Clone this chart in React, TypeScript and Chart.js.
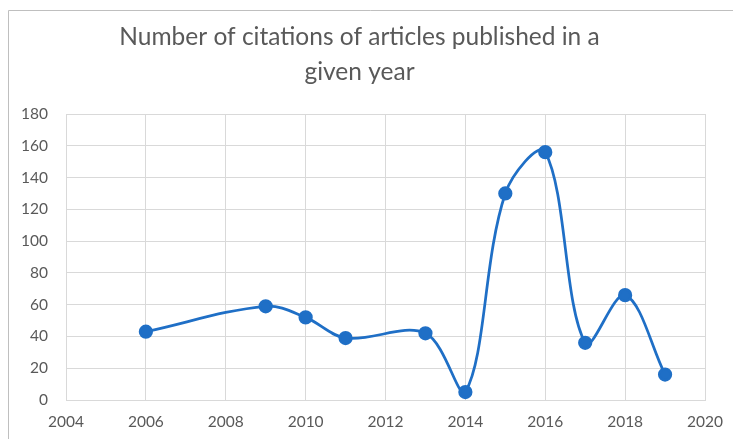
import React, { useEffect, useRef } from "react";
import { Chart, registerables } from "chart.js";

Chart.register(...registerables);

const years: number[] = [2006, 2009, 2010, 2011, 2013, 2014, 2015, 2016, 2017, 2018, 2019];
const citations: number[] = [43, 59, 52, 39, 42, 5, 130, 156, 36, 66, 16];
const titleLines: string[] = ["Number of citations of articles published in a", "given year"];
const xMin = 2004;
const xMax = 2020;
const xStep = 2;
const yMin = 0;
const yMax = 180;
const yStep = 20;

const FONT = "Lato, 'Open Sans', sans-serif";

export default function App() {
  const ref = useRef<HTMLCanvasElement | null>(null);

  useEffect(() => {
    document.body.style.margin = "0";
    const canvas = ref.current;
    if (!canvas) return;
    const points = years.map((x, i) => ({ x, y: citations[i] }));
    const chart = new Chart(canvas, {
      type: "scatter",
      data: {
        datasets: [
          {
            data: points,
            showLine: true,
            borderColor: "#1f6fc6",
            backgroundColor: "#1f6fc6",
            borderWidth: 2.75,
            pointRadius: 5.75,
            pointHoverRadius: 5.75,
            tension: 0.35,
            cubicInterpolationMode: "default",
          },
        ],
      },
      options: {
        animation: false,
        responsive: false,
        devicePixelRatio: 1,
        layout: { padding: { left: 14, right: 28, top: 0, bottom: 0 } },
        plugins: {
          legend: { display: false },
          tooltip: { enabled: false },
          title: {
            display: true,
            text: titleLines,
            color: "#595959",
            font: { family: FONT, size: 24.5, weight: "normal", lineHeight: 35 / 24.5 },
            padding: { top: 19.5, bottom: 24.5 },
          },
        },
        scales: {
          x: {
            type: "linear",
            min: xMin,
            max: xMax,
            ticks: {
              stepSize: xStep,
              color: "#595959",
              font: { family: FONT, size: 15.5 },
              callback: (v: any) => String(v),
              padding: 13,
            },
            grid: { color: "#d9d9d9", lineWidth: 1, drawTicks: false },
            border: { color: "#d9d9d9", width: 1 },
            afterFit: (s: any) => {
              s.height = 39;
              s.paddingRight = 0;
              s.paddingLeft = 0;
            },
          },
          y: {
            type: "linear",
            min: yMin,
            max: yMax,
            ticks: {
              stepSize: yStep,
              color: "#595959",
              font: { family: FONT, size: 15.5 },
              padding: 18,
            },
            grid: { color: "#d9d9d9", lineWidth: 1, drawTicks: false },
            border: { color: "#d9d9d9", width: 1 },
            afterFit: (s: any) => {
              s.width = 52;
            },
          },
        },
      },
      plugins: [
        {
          id: "frame",
          beforeDraw: (c: any) => {
            const ctx = c.ctx;
            ctx.save();
            ctx.fillStyle = "#ffffff";
            ctx.fillRect(0, 0, c.width, c.height);
            ctx.strokeStyle = "#bfbfbf";
            ctx.lineWidth = 1;
            ctx.beginPath();
            ctx.moveTo(8.5, c.height);
            ctx.lineTo(8.5, 10.5);
            ctx.lineTo(c.width, 10.5);
            ctx.stroke();
            ctx.restore();
          },
        },
      ],
    });
    return () => chart.destroy();
  }, []);

  return (
    <div style={{ position: "fixed", left: 0, top: 0, width: 733, height: 439 }}>
      <canvas ref={ref} width={733} height={439} style={{ width: 733, height: 439 }} />
    </div>
  );
}
